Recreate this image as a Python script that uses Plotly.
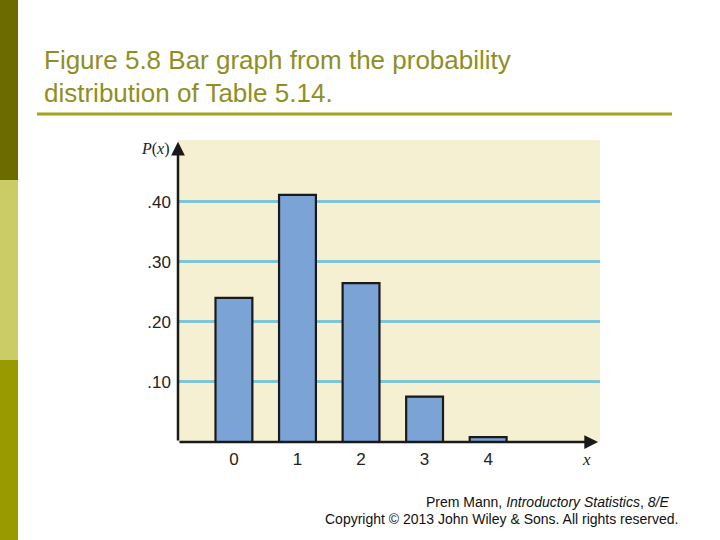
import plotly.graph_objects as go

# probability distribution of Table 5.14
x_values = [0, 1, 2, 3, 4]
probabilities = [0.2401, 0.4116, 0.2646, 0.0756, 0.0081]
y_ticks = [0.10, 0.20, 0.30, 0.40]
y_tick_labels = ['.10', '.20', '.30', '.40']

title_lines = ['Figure 5.8 Bar graph from the probability',
               'distribution of Table 5.14.']
olive = '#8f8f1f'

fig = go.Figure()
fig.add_trace(go.Bar(x=x_values, y=probabilities, width=0.58,
                     marker=dict(color='#7ba3d6',
                                 line=dict(color='#1a1a1a', width=2.2)),
                     hoverinfo='x+y'))

x_min, x_max = -0.88, 5.76
y_max = 0.503

fig.update_layout(
    width=720, height=540,
    margin=dict(l=0, r=0, t=0, b=0),
    paper_bgcolor='white',
    plot_bgcolor='#f6f0d3',
    showlegend=False,
    font=dict(family='Liberation Sans, Arial', size=17, color='#222222'),
    xaxis=dict(domain=[178 / 720, 600 / 720], range=[x_min, x_max],
               tickvals=x_values, ticktext=[str(v) for v in x_values],
               showgrid=False, zeroline=False, showline=False,
               ticks='', ticklabelstandoff=5, fixedrange=True),
    yaxis=dict(domain=[(540 - 442) / 540, (540 - 140) / 540], range=[0, y_max],
               tickvals=y_ticks, ticktext=y_tick_labels,
               showgrid=True, gridcolor='#7ec6d6', gridwidth=2.5,
               zeroline=False, showline=False, ticks='',
               ticklabelstandoff=6, fixedrange=True),
)

# axes with arrow heads
fig.add_annotation(x=x_min, y=y_max - 0.003, ax=x_min, ay=0,
                   xref='x', yref='y', axref='x', ayref='y', text='',
                   showarrow=True, arrowhead=2, arrowsize=1.1,
                   arrowwidth=2.5, arrowcolor='#1a1a1a')
fig.add_annotation(x=x_max - 0.03, y=0, ax=x_min, ay=0,
                   xref='x', yref='y', axref='x', ayref='y', text='',
                   showarrow=True, arrowhead=2, arrowsize=1.1,
                   arrowwidth=2.5, arrowcolor='#1a1a1a')

# axis labels
fig.add_annotation(x=172 / 720, y=(540 - 149) / 540, xref='paper', yref='paper',
                   xanchor='right', yanchor='middle',
                   text='<i>P</i>(<i>x</i>)', showarrow=False,
                   font=dict(family='Liberation Serif, Times New Roman', size=16))
fig.add_annotation(x=593 / 720, y=(540 - 459) / 540, xref='paper', yref='paper',
                   yanchor='middle', text='<i>x</i>', showarrow=False,
                   font=dict(family='Liberation Serif, Times New Roman', size=17))

# slide title
for i, line in enumerate(title_lines):
    fig.add_annotation(x=42 / 720, y=(540 - 60 - 33 * i) / 540,
                       xref='paper', yref='paper', xanchor='left', yanchor='middle',
                       text=line, showarrow=False,
                       font=dict(family='Liberation Sans, Arial', size=26, color=olive))

fig.add_shape(type='line', xref='paper', yref='paper',
              x0=37 / 720, x1=672 / 720, y0=(540 - 114) / 540, y1=(540 - 114) / 540,
              line=dict(color='#a3a31f', width=3))

# left colour strip
for y0, y1, c in [(0, 180, '#6b6b00'), (180, 360, '#cccc66'), (360, 540, '#999900')]:
    fig.add_shape(type='rect', xref='paper', yref='paper',
                  x0=0, x1=18 / 720, y0=1 - y1 / 540, y1=1 - y0 / 540,
                  fillcolor=c, line=dict(width=0), layer='below')

# footer
fig.add_annotation(x=671 / 720, y=(540 - 502) / 540, xref='paper', yref='paper',
                   xanchor='right', yanchor='middle', showarrow=False,
                   text='Prem Mann, <i>Introductory Statistics</i>, <i>8/E</i>',
                   font=dict(family='Liberation Sans, Arial', size=14, color='#111111'))
fig.add_annotation(x=680 / 720, y=(540 - 519) / 540, xref='paper', yref='paper',
                   xanchor='right', yanchor='middle', showarrow=False,
                   text='Copyright © 2013 John Wiley &amp; Sons. All rights reserved.',
                   font=dict(family='Liberation Sans, Arial', size=14, color='#111111'))

fig.write_html('out.html', config={'displayModeBar': False},
               post_script="document.body.style.margin='0';")
